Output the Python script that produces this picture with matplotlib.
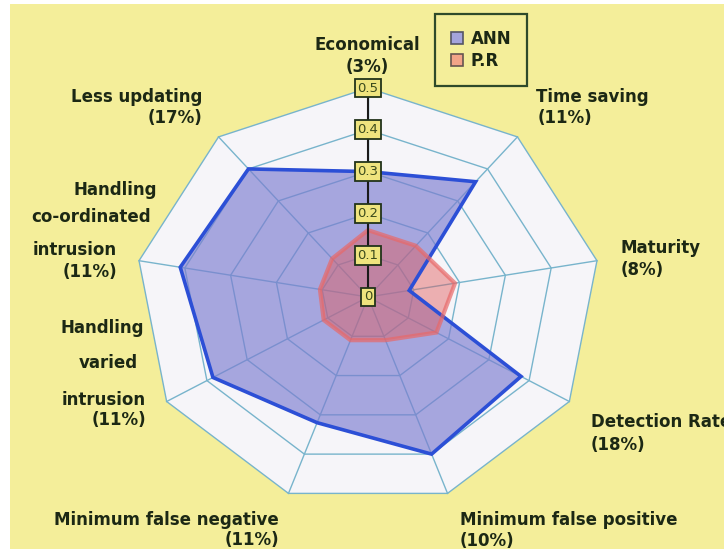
import numpy as np
import matplotlib
matplotlib.use("Agg")
import matplotlib.pyplot as plt
from matplotlib.patches import Polygon, Patch

# data
categories = ["Economical", "Time saving", "Maturity", "Detection Rate",
              "Minimum false positive", "Minimum false negative",
              "Handling varied intrusion", "Handling co-ordinated intrusion",
              "Less updating"]
weights = ["3%", "11%", "8%", "18%", "10%", "11%", "11%", "11%", "17%"]
ann = [0.30, 0.36, 0.09, 0.38, 0.40, 0.32, 0.385, 0.41, 0.40]
pr = [0.16, 0.16, 0.19, 0.17, 0.11, 0.11, 0.11, 0.105, 0.12]
ticks = [0, 0.1, 0.2, 0.3, 0.4, 0.5]

W, H = 724, 549
BG = "#f4ee9a"
TXT = "#1c2814"

fig = plt.figure(figsize=(W / 100, H / 100), dpi=100, facecolor="white")
ax = fig.add_axes([10 / W, 0, (W - 10) / W, 545 / H])
ax.set_facecolor(BG)
# the original is stretched horizontally, so no equal aspect here
ax.set_xlim(-358 / 465, (W - 368) / 465)
ax.set_ylim(-252 / 418, (545 - 252) / 418)
ax.axis("off")
ax.add_patch(plt.Rectangle((0, 0), 1, 1, transform=ax.transAxes, color=BG, zorder=0))

n = len(categories)
theta = np.arange(n) * 2 * np.pi / n


def to_xy(vals):
    vals = np.asarray(vals)
    return np.column_stack([vals * np.sin(theta), vals * np.cos(theta)])


# background web
rmax = ticks[-1]
ax.add_patch(Polygon(to_xy([rmax] * n), closed=True, facecolor="#f6f5f9",
                     edgecolor="none", zorder=1))
for t in ticks[1:]:
    ax.add_patch(Polygon(to_xy([t] * n), closed=True, fill=False,
                         edgecolor="#78b4cc", lw=1.0, zorder=2))
outer = to_xy([rmax] * n)
for px, py in outer:
    ax.plot([0, px], [0, py], color="#78b4cc", lw=1.0, zorder=2)

# series
ax.add_patch(Polygon(to_xy(ann), closed=True, facecolor="#7c7cd0", alpha=0.65,
                     edgecolor="none", zorder=3))
ax.add_patch(Polygon(to_xy(ann), closed=True, fill=False, edgecolor="#2c4fd6",
                     lw=2.6, zorder=5))
ax.add_patch(Polygon(to_xy(pr), closed=True, facecolor="#e05a5a", alpha=0.45,
                     edgecolor="none", zorder=4))
ax.add_patch(Polygon(to_xy(pr), closed=True, fill=False, edgecolor="#e86868",
                     alpha=0.7, lw=3.0, zorder=5))

# value axis along the top spoke
ax.plot([0, 0], [0, rmax], color="#1a1a1a", lw=1.5, zorder=6)
for t in ticks:
    ax.text(0, t, "0" if t == 0 else f"{t:g}", ha="center", va="center",
            fontsize=9.5, color="#3a4a1c", zorder=7,
            bbox=dict(boxstyle="square,pad=0.22", facecolor="#efe47e",
                      edgecolor="#22331a", lw=1.3))

# category labels (pixel positions, line by line as in the original)
label_lines = [
    ("Economical", 367, 45, "center"), ("(3%)", 367, 67, "center"),
    ("Time saving", 536, 97, "left"), ("(11%)", 538, 118, "left"),
    ("Maturity", 621, 248, "left"), ("(8%)", 621, 270, "left"),
    ("Detection Rate", 591, 422, "left"), ("(18%)", 591, 445, "left"),
    ("Minimum false positive", 460, 520, "left"), ("(10%)", 460, 541, "left"),
    ("Minimum false negative", 279, 520, "right"), ("(11%)", 279, 540, "right"),
    ("Handling", 144, 328, "right"), ("varied", 138, 363, "right"),
    ("intrusion", 146, 400, "right"), ("(11%)", 146, 420, "right"),
    ("Handling", 157, 190, "right"), ("co-ordinated", 151, 217, "right"),
    ("intrusion", 117, 250, "right"), ("(11%)", 117, 272, "right"),
    ("Less updating", 202, 97, "right"), ("(17%)", 202, 118, "right"),
]
for s, x, y, ha in label_lines:
    fig.text(x / W, 1 - y / H, s, ha=ha, va="center", fontsize=12,
             fontweight="bold", color=TXT)

# legend
handles = [Patch(facecolor="#a4a4dc", edgecolor="#555566", lw=1.2),
           Patch(facecolor="#f2a488", edgecolor="#665550", lw=1.2)]
leg = fig.legend(handles, ["ANN", "P.R"], loc="upper left",
                 bbox_to_anchor=(435 / W, 1 - 14 / H), borderaxespad=0,
                 frameon=True, fancybox=False, facecolor=BG, edgecolor="#2e4a2a",
                 handlelength=0.75, handleheight=0.75, handletextpad=0.45,
                 borderpad=0.95, labelspacing=0.25,
                 prop=dict(size=12, weight="bold"))
leg.get_frame().set_linewidth(1.6)
leg.get_frame().set_alpha(1)
for t in leg.get_texts():
    t.set_color(TXT)

fig.savefig("out.png", dpi=100, facecolor=fig.get_facecolor())
